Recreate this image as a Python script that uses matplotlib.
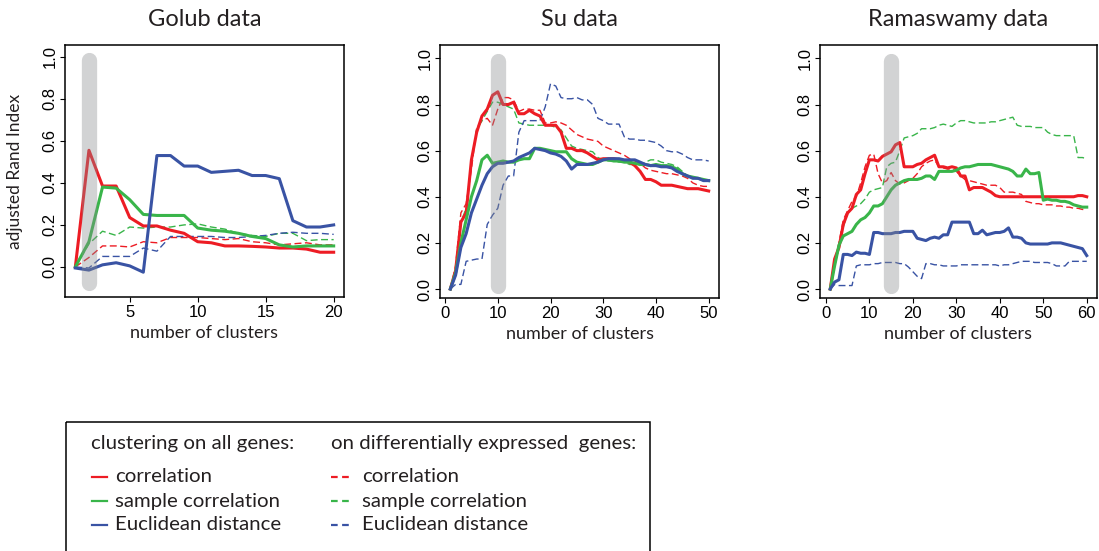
import matplotlib
matplotlib.use('Agg')
import matplotlib.pyplot as plt
from matplotlib.patches import Rectangle

# adjusted Rand index vs number of clusters
golub_k = list(range(1, 21))
golub_corr = [0.0, 0.555, 0.385, 0.385, 0.235, 0.195, 0.195, 0.175, 0.16, 0.12,
              0.115, 0.10, 0.10, 0.098, 0.095, 0.09, 0.09, 0.085, 0.07, 0.07]
golub_samp = [0.0, 0.12, 0.38, 0.375, 0.32, 0.25, 0.245, 0.245, 0.245, 0.185,
              0.175, 0.17, 0.16, 0.145, 0.135, 0.105, 0.095, 0.10, 0.10, 0.10]
golub_eucl = [-0.005, -0.015, 0.01, 0.02, 0.005, -0.025, 0.53, 0.53, 0.48, 0.48,
              0.45, 0.455, 0.46, 0.435, 0.435, 0.42, 0.22, 0.19, 0.19, 0.20]
golub_corr_de = [0.0, 0.045, 0.10, 0.10, 0.095, 0.12, 0.115, 0.14, 0.14, 0.14,
                 0.135, 0.13, 0.135, 0.12, 0.115, 0.105, 0.11, 0.115, 0.105, 0.105]
golub_samp_de = [0.0, 0.11, 0.17, 0.15, 0.19, 0.185, 0.19, 0.19, 0.20, 0.205,
                 0.19, 0.18, 0.16, 0.15, 0.145, 0.16, 0.16, 0.125, 0.13, 0.13]
golub_eucl_de = [0.0, -0.005, 0.05, 0.05, 0.05, 0.09, 0.075, 0.145, 0.145, 0.145,
                 0.145, 0.14, 0.14, 0.145, 0.15, 0.16, 0.165, 0.16, 0.16, 0.155]

su_k = list(range(1, 51))
su_corr = [0.0, 0.08, 0.29, 0.33, 0.56, 0.68, 0.75, 0.78, 0.84, 0.855,
           0.80, 0.80, 0.81, 0.76, 0.76, 0.775, 0.76, 0.75, 0.71, 0.71,
           0.71, 0.68, 0.61, 0.61, 0.60, 0.60, 0.59, 0.575, 0.56, 0.565,
           0.565, 0.565, 0.56, 0.555, 0.55, 0.535, 0.51, 0.475, 0.475, 0.465,
           0.45, 0.45, 0.45, 0.445, 0.44, 0.435, 0.435, 0.435, 0.43, 0.425]
su_samp = [0.0, 0.07, 0.20, 0.30, 0.40, 0.47, 0.56, 0.58, 0.545, 0.55,
           0.555, 0.55, 0.55, 0.56, 0.565, 0.565, 0.61, 0.61, 0.605, 0.60,
           0.595, 0.595, 0.595, 0.565, 0.55, 0.545, 0.54, 0.54, 0.55, 0.56,
           0.56, 0.555, 0.555, 0.55, 0.55, 0.545, 0.54, 0.54, 0.535, 0.54,
           0.535, 0.535, 0.53, 0.52, 0.50, 0.49, 0.485, 0.48, 0.475, 0.47]
su_eucl = [0.0, 0.06, 0.18, 0.24, 0.33, 0.39, 0.45, 0.50, 0.53, 0.545,
           0.545, 0.55, 0.555, 0.57, 0.58, 0.59, 0.61, 0.605, 0.60, 0.59,
           0.585, 0.575, 0.555, 0.52, 0.54, 0.54, 0.54, 0.545, 0.55, 0.56,
           0.565, 0.565, 0.565, 0.56, 0.56, 0.56, 0.55, 0.54, 0.535, 0.535,
           0.53, 0.53, 0.525, 0.51, 0.50, 0.49, 0.48, 0.48, 0.47, 0.47]
su_corr_de = [0.0, 0.10, 0.33, 0.37, 0.52, 0.70, 0.73, 0.74, 0.71, 0.78,
              0.83, 0.83, 0.82, 0.77, 0.78, 0.78, 0.775, 0.775, 0.72, 0.72,
              0.725, 0.72, 0.71, 0.69, 0.67, 0.66, 0.65, 0.645, 0.64, 0.62,
              0.61, 0.60, 0.59, 0.58, 0.565, 0.555, 0.545, 0.525, 0.515, 0.51,
              0.505, 0.50, 0.50, 0.495, 0.49, 0.48, 0.46, 0.45, 0.445, 0.445]
su_samp_de = [0.0, 0.08, 0.29, 0.35, 0.55, 0.69, 0.73, 0.77, 0.81, 0.81,
              0.80, 0.79, 0.78, 0.72, 0.715, 0.71, 0.71, 0.71, 0.71, 0.71,
              0.70, 0.69, 0.655, 0.62, 0.61, 0.605, 0.60, 0.595, 0.57, 0.56,
              0.555, 0.555, 0.55, 0.55, 0.54, 0.54, 0.54, 0.55, 0.56, 0.56,
              0.55, 0.545, 0.54, 0.53, 0.51, 0.49, 0.485, 0.48, 0.475, 0.47]
su_eucl_de = [0.0, 0.02, 0.02, 0.12, 0.125, 0.13, 0.13, 0.28, 0.32, 0.35,
              0.45, 0.49, 0.49, 0.68, 0.73, 0.73, 0.73, 0.73, 0.79, 0.89,
              0.88, 0.83, 0.825, 0.825, 0.83, 0.82, 0.82, 0.80, 0.74, 0.73,
              0.715, 0.715, 0.715, 0.66, 0.65, 0.65, 0.645, 0.645, 0.64, 0.635,
              0.62, 0.60, 0.595, 0.595, 0.585, 0.57, 0.56, 0.56, 0.56, 0.555]

ram_k = list(range(1, 61))
ram_corr = [0.0, 0.13, 0.18, 0.28, 0.33, 0.35, 0.41, 0.43, 0.50, 0.56,
            0.56, 0.555, 0.575, 0.585, 0.595, 0.625, 0.635, 0.53, 0.53, 0.53,
            0.54, 0.545, 0.56, 0.57, 0.58, 0.53, 0.53, 0.525, 0.53, 0.525,
            0.49, 0.49, 0.43, 0.44, 0.44, 0.44, 0.43, 0.42, 0.405, 0.40,
            0.40, 0.40, 0.40, 0.40, 0.40, 0.40, 0.40, 0.40, 0.40, 0.40,
            0.40, 0.40, 0.40, 0.40, 0.40, 0.40, 0.40, 0.405, 0.405, 0.40]
ram_samp = [0.0, 0.10, 0.19, 0.23, 0.24, 0.25, 0.28, 0.30, 0.31, 0.33,
            0.36, 0.36, 0.37, 0.40, 0.43, 0.45, 0.46, 0.47, 0.475, 0.475,
            0.475, 0.48, 0.49, 0.49, 0.475, 0.51, 0.51, 0.51, 0.51, 0.515,
            0.525, 0.53, 0.53, 0.535, 0.54, 0.54, 0.54, 0.54, 0.535, 0.53,
            0.525, 0.52, 0.51, 0.49, 0.49, 0.52, 0.50, 0.50, 0.505, 0.385,
            0.39, 0.385, 0.385, 0.38, 0.38, 0.375, 0.365, 0.36, 0.355, 0.355]
ram_eucl = [0.0, 0.03, 0.04, 0.15, 0.15, 0.145, 0.16, 0.155, 0.155, 0.15,
            0.245, 0.245, 0.24, 0.24, 0.24, 0.245, 0.245, 0.25, 0.25, 0.25,
            0.22, 0.215, 0.21, 0.22, 0.225, 0.22, 0.235, 0.235, 0.29, 0.29,
            0.29, 0.29, 0.29, 0.24, 0.24, 0.255, 0.235, 0.24, 0.245, 0.245,
            0.25, 0.265, 0.225, 0.225, 0.22, 0.20, 0.195, 0.195, 0.195, 0.195,
            0.195, 0.20, 0.20, 0.20, 0.195, 0.19, 0.185, 0.18, 0.175, 0.145]
ram_corr_de = [0.0, 0.10, 0.20, 0.30, 0.34, 0.38, 0.40, 0.46, 0.53, 0.58,
               0.585, 0.50, 0.46, 0.47, 0.505, 0.47, 0.455, 0.46, 0.47, 0.48,
               0.50, 0.53, 0.545, 0.555, 0.56, 0.53, 0.525, 0.52, 0.52, 0.51,
               0.49, 0.475, 0.47, 0.465, 0.46, 0.455, 0.45, 0.45, 0.45, 0.44,
               0.42, 0.42, 0.42, 0.415, 0.41, 0.38, 0.375, 0.37, 0.37, 0.365,
               0.365, 0.365, 0.36, 0.36, 0.355, 0.355, 0.35, 0.35, 0.345, 0.345]
ram_samp_de = [0.0, 0.10, 0.18, 0.27, 0.33, 0.35, 0.36, 0.37, 0.39, 0.42,
               0.43, 0.435, 0.44, 0.53, 0.545, 0.55, 0.60, 0.655, 0.66, 0.665,
               0.675, 0.695, 0.695, 0.695, 0.70, 0.71, 0.715, 0.71, 0.705, 0.72,
               0.73, 0.73, 0.725, 0.72, 0.72, 0.72, 0.72, 0.725, 0.725, 0.73,
               0.735, 0.74, 0.745, 0.71, 0.705, 0.705, 0.705, 0.70, 0.70, 0.70,
               0.68, 0.67, 0.665, 0.665, 0.665, 0.665, 0.665, 0.57, 0.57, 0.565]
ram_eucl_de = [0.0, 0.02, 0.015, 0.015, 0.015, 0.015, 0.10, 0.105, 0.105, 0.105,
               0.11, 0.11, 0.115, 0.115, 0.115, 0.115, 0.11, 0.11, 0.095, 0.075,
               0.055, 0.045, 0.11, 0.11, 0.105, 0.105, 0.10, 0.10, 0.10, 0.10,
               0.105, 0.105, 0.105, 0.105, 0.105, 0.105, 0.105, 0.105, 0.105, 0.10,
               0.105, 0.105, 0.11, 0.115, 0.12, 0.12, 0.12, 0.115, 0.115, 0.115,
               0.115, 0.11, 0.10, 0.10, 0.10, 0.12, 0.12, 0.12, 0.12, 0.12]

titles = ['Golub data', 'Su data', 'Ramaswamy data']
best_k = [2, 10, 15]          # grey bar marks the true number of classes
method_labels = ['correlation', 'sample correlation', 'Euclidean distance']

RED, GREEN, BLUE = '#ed1c24', '#39b54a', '#3953a4'
colors = [RED, GREEN, BLUE]
INK = '#231f20'
TXT = 'Lato'
NUM = 'Liberation Sans'

W, H = 1099, 551
fig = plt.figure(figsize=(W / 100, H / 100), dpi=100)


def px_axes(l, t, r, b):
    return fig.add_axes([l / W, 1 - b / H, (r - l) / W, (b - t) / H])


panels = [
    dict(box=(65, 45, 344, 297), k=golub_k, xlim=(0.24, 20.76), ylim=(-0.143, 1.056),
         xticks=[5, 10, 15, 20], bar=(-0.078, 0.983),
         solid=[golub_corr, golub_samp, golub_eucl],
         dashed=[golub_corr_de, golub_samp_de, golub_eucl_de]),
    dict(box=(440, 45, 719, 298), k=su_k, xlim=(-0.96, 51.96), ylim=(-0.039, 1.058),
         xticks=[0, 10, 20, 30, 40, 50], bar=(0.015, 0.987),
         solid=[su_corr, su_samp, su_eucl],
         dashed=[su_corr_de, su_samp_de, su_eucl_de]),
    dict(box=(820, 45, 1097, 298), k=ram_k, xlim=(-1.36, 62.36), ylim=(-0.039, 1.058),
         xticks=[0, 10, 20, 30, 40, 50, 60], bar=(0.015, 0.987),
         solid=[ram_corr, ram_samp, ram_eucl],
         dashed=[ram_corr_de, ram_samp_de, ram_eucl_de]),
]

for i, p in enumerate(panels):
    ax = px_axes(*p['box'])
    for c, ys in zip(colors, p['dashed']):
        ax.plot(p['k'], ys, color=c, lw=1.0, dashes=(5, 2.5))
    for c, ys in zip(colors, p['solid']):
        ax.plot(p['k'], ys, color=c, lw=2.2, solid_joinstyle='round')
    ax.plot([best_k[i], best_k[i]], p['bar'], color='#8a8c8e', alpha=0.38,
            lw=11, solid_capstyle='round', zorder=5)
    ax.set_xlim(*p['xlim'])
    ax.set_ylim(*p['ylim'])
    ax.set_xticks(p['xticks'])
    ax.set_yticks([0.0, 0.2, 0.4, 0.6, 0.8, 1.0])
    ax.set_yticklabels(['0.0', '0.2', '0.4', '0.6', '0.8', '1.0'])
    ax.tick_params(direction='out', length=3.5, width=0.8, labelsize=12, pad=2)
    for lbl in ax.get_xticklabels() + ax.get_yticklabels():
        lbl.set_fontfamily(NUM)
    for lbl in ax.get_yticklabels():
        lbl.set_rotation(90)
        lbl.set_va('center')
    for s in ax.spines.values():
        s.set_linewidth(1.1)
    ax.set_xlabel('number of clusters', family=TXT, fontsize=13, labelpad=4,
                  color=INK)
    l, t, r, b = p['box']
    fig.text((l + r) / 2 / W, 1 - 20 / H, titles[i], family=TXT, fontsize=17,
             ha='center', va='center', color=INK)
    if i == 0:
        ax.set_ylabel('adjusted Rand Index', family=TXT, fontsize=12.5, labelpad=14,
                      color=INK)

# legend drawn in pixel coordinates over the whole figure
lax = fig.add_axes([0, 0, 1, 1])
lax.set_xlim(0, W)
lax.set_ylim(H, 0)
lax.axis('off')
lax.add_patch(Rectangle((66, 422), 584, 140, fill=False, lw=1.1, ec='black'))
LFS = 14.7
lax.text(91, 443, 'clustering on all genes:', family=TXT, fontsize=LFS,
         va='center', color=INK)
lax.text(331, 443, 'on differentially expressed  genes:', family=TXT, fontsize=LFS,
         va='center', color=INK)
for j, (c, lab) in enumerate(zip(colors, method_labels)):
    y = 477 + 24 * j
    lax.plot([92, 107], [y, y], color=c, lw=1.6)
    lax.text(115, y, lab, family=TXT, fontsize=LFS, va='center', color=INK)
    lax.plot([331, 349], [y, y], color=c, lw=1.6, dashes=(3, 2))
    lax.text(362, y, lab, family=TXT, fontsize=LFS, va='center', color=INK)

fig.savefig('out.png', dpi=100)
